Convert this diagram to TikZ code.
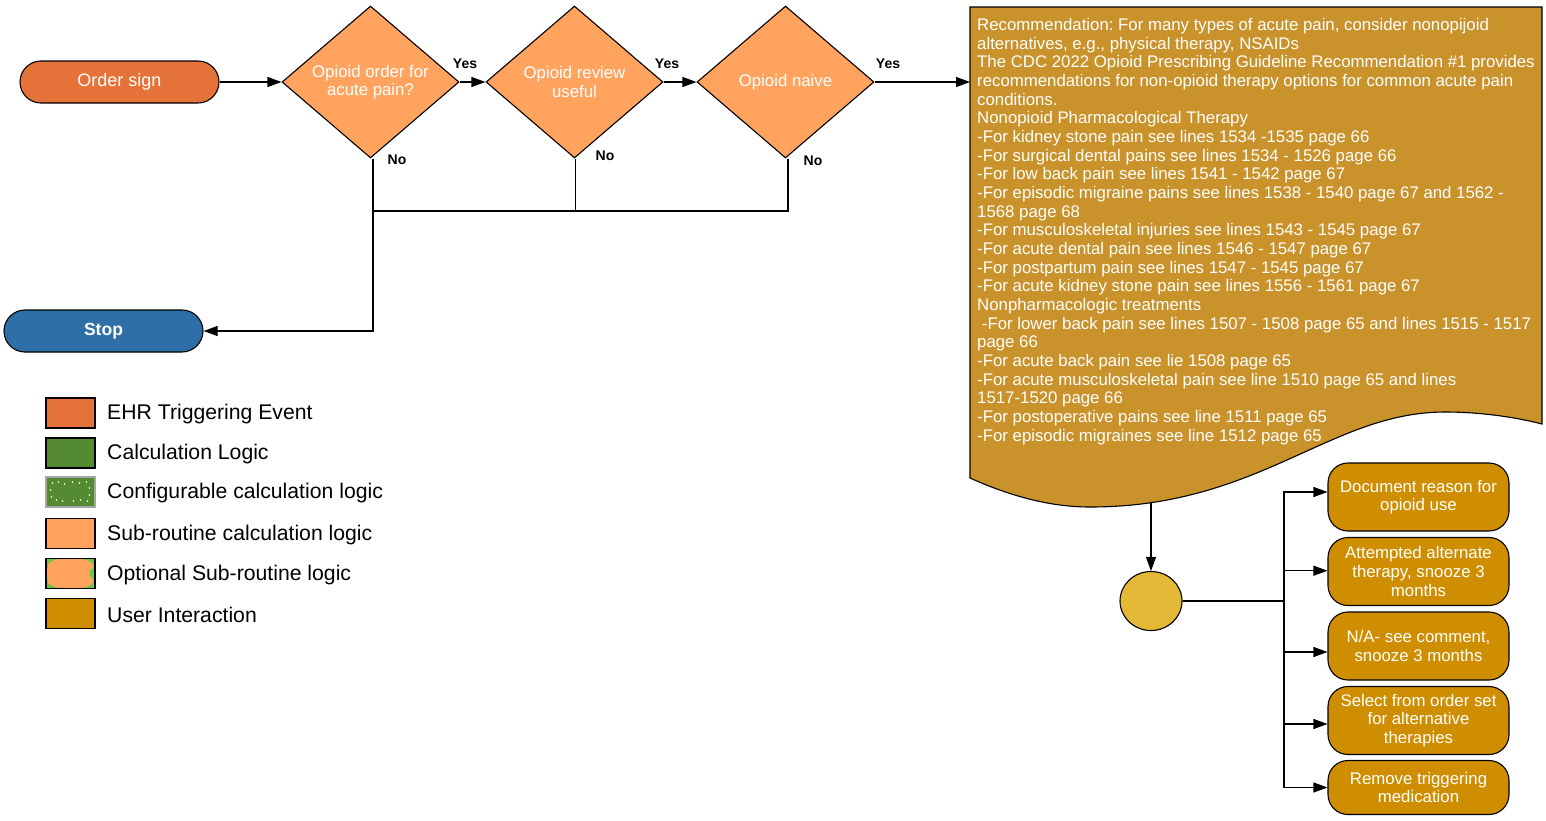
\documentclass[tikz,border=0pt]{standalone}
\usepackage{fontspec}
\setmainfont{Liberation Sans}
\usetikzlibrary{arrows.meta,shapes.geometric}
\definecolor{ehr}{HTML}{E57339}
\definecolor{subr}{HTML}{FFA35E}
\definecolor{stopc}{HTML}{2F6FA8}
\definecolor{docc}{HTML}{C9922B}
\definecolor{useri}{HTML}{CF8E00}
\definecolor{circc}{HTML}{E3B836}
\definecolor{calcg}{HTML}{548A31}
\definecolor{optg}{HTML}{6CC644}
\tikzset{
  lw/.style={line width=1.1pt},
  arr/.style={lw, -{Triangle[length=14pt,width=10pt]}},
  pill/.style={draw, lw, rounded corners=21pt, minimum width=199pt, minimum height=42pt, inner sep=0pt, text=white, font=\fontsize{18}{20}\selectfont},
  decide/.style={diamond, draw, lw, fill=subr, aspect=1.16, minimum width=177pt, minimum height=152pt, inner sep=0pt, text=white, align=center, font=\fontsize{16.8}{18.6}\selectfont},
  lbl/.style={font=\bfseries\fontsize{14}{16}\selectfont, inner sep=0pt},
  ubox/.style={draw, lw, fill=useri, rounded corners=20pt, minimum width=181pt, inner sep=0pt, text=white, align=center, font=\fontsize{16.8}{18.6}\selectfont},
  legsq/.style={draw, lw, minimum width=49pt, minimum height=30pt, inner sep=0pt},
  legtx/.style={anchor=west, inner sep=0pt, font=\fontsize{21.2}{23}\selectfont},
}
\frenchspacing
\begin{document}
\begin{tikzpicture}[x=1pt,y=-1pt]
\useasboundingbox (0,0) rectangle (1546,820);

% top flow
\node[pill, fill=ehr] (order) at (119.5,82) {Order sign};
\node[pill, fill=stopc, font=\bfseries\fontsize{17.5}{20}\selectfont] (stop) at (103.5,331) {Stop};
\node[decide] (d1) at (370.5,82) {Opioid order for\\acute pain?};
\node[decide] (d2) at (574.5,82) {Opioid review\\useful};
\node[decide] (d3) at (785.5,82) {Opioid naive};

% document shape
\draw[lw, fill=docc] (970,7) -- (1542,7) -- (1542,424)
  .. controls (1515,417) and (1480,412) .. (1445,412)
  .. controls (1330,412) and (1260,507) .. (1090,507)
  .. controls (1050,507) and (1010,496) .. (970,478) -- cycle;
\node[anchor=north west, inner sep=0pt, align=left, text=white,
      font=\fontsize{16.8}{18.68}\selectfont] (doctext) at (977,18) {%
Recommendation: For many types of acute pain, consider nonopijoid\\
alternatives, e.g., physical therapy, NSAIDs\\
The CDC 2022 Opioid Prescribing Guideline Recommendation \#1 provides\\
recommendations for non-opioid therapy options for common acute pain\\
conditions.\\
Nonopioid Pharmacological Therapy\\
-For kidney stone pain see lines 1534 -1535 page 66\\
-For surgical dental pains see lines 1534 - 1526 page 66\\
-For low back pain see lines 1541 - 1542 page 67\\
-For episodic migraine pains see lines 1538 - 1540 page 67 and 1562 -\\
1568 page 68\\
-For musculoskeletal injuries see lines 1543 - 1545 page 67\\
-For acute dental pain see lines 1546 - 1547 page 67\\
-For postpartum pain see lines 1547 - 1545 page 67\\
-For acute kidney stone pain see lines 1556 - 1561 page 67\\
Nonpharmacologic treatments\\
\hspace*{4.7pt}-For lower back pain see lines 1507 - 1508 page 65 and lines 1515 - 1517\\
page 66\\
-For acute back pain see lie 1508 page 65\\
-For acute musculoskeletal pain see line 1510 page 65 and lines\\
1517-1520 page 66\\
-For postoperative pains see line 1511 page 65\\
-For episodic migraines see line 1512 page 65};
\coordinate (docl) at (970,82);
\coordinate (docb) at (1151,502);

% connectors top
\draw[arr] (order.east) -- (d1.west);
\draw[arr] (d1.east) -- (d2.west);
\draw[arr] (d2.east) -- (d3.west);
\draw[arr] (d3.east) -- (docl);
\node[lbl] (y1) at (465,64) {Yes};
\node[lbl] (y2) at (667,64) {Yes};
\node[lbl] (y3) at (888,64) {Yes};
\node[lbl] (n1) at (397,160) {No};
\node[lbl] (n2) at (605,156) {No};
\node[lbl] (n3) at (813,161) {No};
\coordinate (jn) at (373,211);
\draw[arr] ([xshift=2.5pt]d1.south) |- (stop.east);
\draw[lw] ([xshift=1pt]d2.south) |- (jn);
\draw[lw] ([xshift=2.5pt]d3.south) |- (jn);

% user interaction part
\node[ellipse, draw, lw, fill=circc, minimum width=62pt, minimum height=59pt, inner sep=0pt] (circ) at (1151,601) {};
\draw[arr] (docb) -- (circ.north);
\node[ubox, minimum height=68pt] (b1) at (1418.5,497) {Document reason for\\opioid use};
\node[ubox, minimum height=68pt] (b2) at (1418.5,571.5) {Attempted alternate\\therapy, snooze 3\\months};
\node[ubox, minimum height=68pt] (b3) at (1418.5,646) {N/A- see comment,\\snooze 3 months};
\node[ubox, minimum height=68pt] (b4) at (1418.5,720.5) {Select from order set\\for alternative\\therapies};
\node[ubox, minimum height=54pt] (b5) at (1418.5,787.5) {Remove triggering\\medication};
\coordinate (tr) at (1284,601);
\draw[lw] (circ.east) -- (tr);
\draw[arr] (tr) |- ([yshift=5pt]b1.west);
\draw[arr] (tr) |- ([yshift=0.8pt]b2.west);
\draw[arr] (tr) |- ([yshift=-6pt]b3.west);
\draw[arr] (tr) |- ([yshift=-3.5pt]b4.west);
\draw[arr] (tr) |- (b5.west);

% legend
\node[legsq, fill=ehr] (l1) at (70.5,413) {};
\node[legsq, fill=calcg] (l2) at (70.5,453) {};
\node[legsq, fill=calcg, draw=gray!70, line width=1.6pt] (l3) at (70.5,492) {};
\foreach \dx/\dy in {-18/-9,-12/-10,-6/-8,2/-10,9/-9,16/-10,19/-4,-20/-2,-19/5,-14/8,-8/9,3/9,10/8,17/9,19/3}
  \fill[white] ([xshift=\dx pt,yshift=-\dy pt]l3.center) circle (0.8pt);
\node[legsq, fill=subr] (l4) at (70.5,533.5) {};
\node[legsq, fill=optg] (l5) at (70.5,573.5) {};
\begin{scope}
\clip (47,559) rectangle (94,588);
\fill[subr] (70.5,566) ellipse (23pt and 8pt);
\fill[subr] (70.5,581) ellipse (23pt and 8pt);
\fill[subr] (66,573.5) ellipse (24pt and 9pt);
\end{scope}
\node[legsq, fill=none] at (l5) {};
\node[legsq, fill=useri] (l6) at (70.5,613.5) {};
\node[legtx] (t1) at (107,414.5) {EHR Triggering Event};
\node[legtx] (t2) at (107,454.5) {Calculation Logic};
\node[legtx] (t3) at (107,493.5) {Configurable calculation logic};
\node[legtx] (t4) at (107,535) {Sub-routine calculation logic};
\node[legtx] (t5) at (107,575) {Optional Sub-routine logic};
\node[legtx] (t6) at (107,615) {User Interaction};
\end{tikzpicture}
\end{document}
